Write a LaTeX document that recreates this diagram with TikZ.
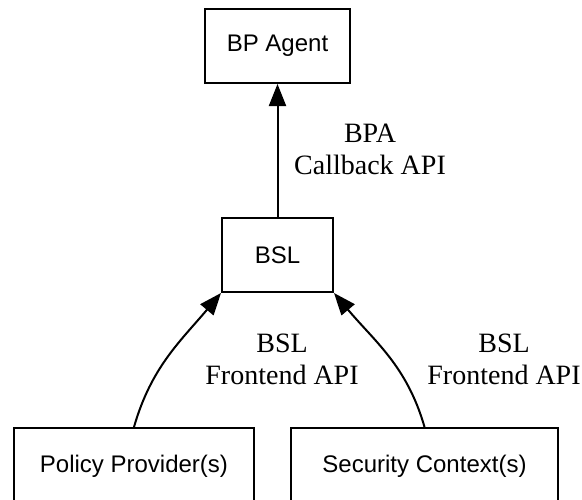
\documentclass[tikz,border=0pt]{standalone}
\usepackage{fontspec}
\setmainfont{Liberation Serif}
\setsansfont{Liberation Sans}
\usepackage{tikz}
\usetikzlibrary{arrows.meta}
\tikzset{
  block/.style={draw,line width=1pt,rectangle,inner sep=0pt,
    font=\sffamily\fontsize{12}{14}\selectfont},
  apilabel/.style={align=center,inner sep=0pt,
    font=\fontsize{14}{16}\selectfont},
  flow/.style={-{Triangle[length=11pt,width=8.5pt]},line width=1pt}
}

\begin{document}
\begin{tikzpicture}[x=0.5pt,y=0.5pt]
  \useasboundingbox (0,0) rectangle (582,499);
  \node[block,minimum width=72.5pt,minimum height=37pt] (agent) at (277.5,453) {BP Agent};
  \node[block,minimum width=55.5pt,minimum height=37pt] (bsl) at (277.5,244) {BSL};
  \node[block,minimum width=120pt,minimum height=38pt] (policy) at (134,33) {Policy Provider(s)};
  \node[block,minimum width=133.5pt,minimum height=38pt] (secctx) at (424.5,33) {Security Context(s)};
  \node[apilabel] (bpaapi) at (370,350) {BPA\\Callback API};
  \node[apilabel] (feleft) at (282,140) {BSL\\Frontend API};
  \node[apilabel] (feright) at (504,140) {BSL\\Frontend API};
  \draw[flow] (bsl) -- (agent);
  \draw[flow] (policy.north) to[out=74,in=230] (bsl.south west);
  \draw[flow] (secctx.north) to[out=106,in=-50] (bsl.south east);
\end{tikzpicture}
\end{document}
